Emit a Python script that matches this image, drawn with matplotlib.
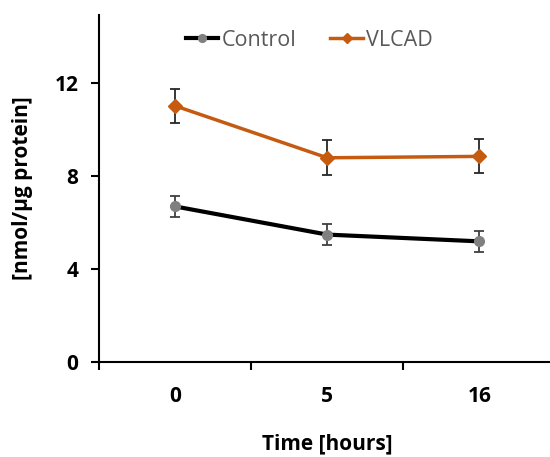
import numpy as np
import matplotlib.pyplot as plt
from matplotlib.ticker import FixedLocator

plt.rcParams['font.family'] = ['Open Sans', 'DejaVu Sans']

times = ['0', '5', '16']
control = [6.68, 5.47, 5.18]
control_err = [0.45, 0.45, 0.45]
vlcad = [11.0, 8.77, 8.83]
vlcad_err = [0.73, 0.75, 0.73]

x = np.arange(len(times))

fig = plt.figure(figsize=(5.5, 4.57), dpi=100)
ax = fig.add_axes([0.18, 0.208, 0.83, 0.759])

ax.errorbar(x, control, yerr=control_err, color='black', lw=3,
            marker='o', ms=7, mfc='#808080', mec='#808080',
            ecolor='#404040', elinewidth=1.3, capsize=3.5, capthick=1.3,
            label='Control', zorder=3)
ax.errorbar(x, vlcad, yerr=vlcad_err, color='#C55A11', lw=2.5,
            marker='D', ms=7, mfc='#C55A11', mec='#C55A11',
            ecolor='#262626', elinewidth=1.3, capsize=3.5, capthick=1.3,
            label='VLCAD', zorder=3)

ax.set_xlim(-0.5, 2.5)
ax.set_ylim(0, 14.9)
ax.set_yticks([0, 4, 8, 12])
ax.set_xticks(x)
ax.set_xticklabels(times)
ax.xaxis.set_minor_locator(FixedLocator([-0.5, 0.5, 1.5, 2.5]))
ax.tick_params(axis='x', which='major', length=0, pad=17)
ax.tick_params(axis='x', which='minor', length=6, width=1.5, direction='out')
ax.tick_params(axis='y', length=6, width=1.5, direction='out', pad=9)
for lab in ax.get_xticklabels() + ax.get_yticklabels():
    lab.set_fontweight('bold')
    lab.set_fontsize(15)

for s in ['top', 'right']:
    ax.spines[s].set_visible(False)
for s in ['left', 'bottom']:
    ax.spines[s].set_linewidth(1.5)

ax.set_xlabel('Time [hours]', fontsize=15, fontweight='bold', labelpad=19)
ax.set_ylabel('[nmol/µg protein]', fontsize=15, fontweight='bold', labelpad=15)

handles, labels = ax.get_legend_handles_labels()
handles = [h[0] for h in handles]
leg = ax.legend(handles, labels, loc='center left', bbox_to_anchor=(0.19, 0.928),
                ncol=2, frameon=False, fontsize=15.5, handlelength=1.5,
                handletextpad=0.15, columnspacing=1.6, borderpad=0,
                borderaxespad=0, markerscale=0.8)
for t in leg.get_texts():
    t.set_color('#595959')

fig.savefig('out.png', dpi=100)
